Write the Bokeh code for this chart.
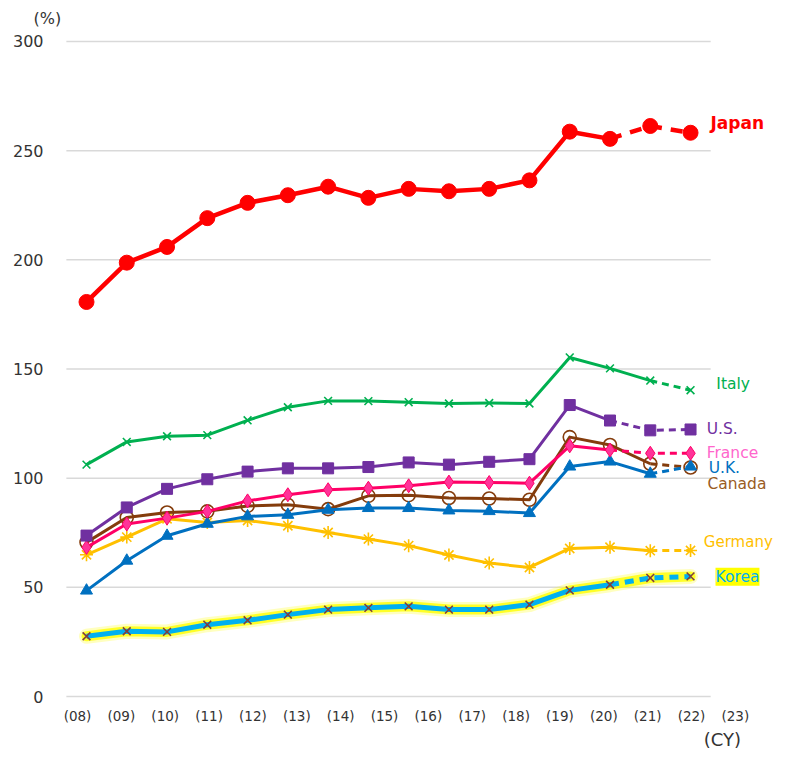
from bokeh.plotting import figure
from bokeh.models import Range1d, LinearAxis, FixedTicker, Label
from bokeh.embed import file_html
from bokeh.resources import INLINE

# ---------------- data ----------------
years = ["08", "09", "10", "11", "12", "13", "14", "15", "16", "17", "18", "19", "20", "21", "22", "23"]
x_labels = ["(" + y + ")" for y in years]
y_ticks = [0, 50, 100, 150, 200, 250, 300]

japan = [180.7, 198.7, 205.9, 219.1, 226.1, 229.6, 233.5, 228.4, 232.5, 231.4, 232.5, 236.4, 258.7, 255.4, 261.3, 258.2]
italy = [106.2, 116.6, 119.2, 119.7, 126.5, 132.5, 135.4, 135.3, 134.8, 134.2, 134.4, 134.2, 155.3, 150.3, 144.7, 140.3]
us = [73.7, 86.6, 95.1, 99.5, 103.0, 104.5, 104.5, 105.1, 107.2, 106.2, 107.5, 108.7, 133.5, 126.4, 121.9, 122.3]
france = [68.3, 79.0, 81.7, 84.8, 89.6, 92.4, 94.7, 95.4, 96.5, 98.2, 98.0, 97.7, 114.8, 112.9, 111.4, 111.4]
uk = [48.5, 62.2, 73.6, 79.1, 82.5, 83.2, 85.5, 86.3, 86.3, 85.2, 84.9, 84.0, 105.3, 107.6, 102.0, 105.3]
canada = [70.6, 82.0, 84.3, 84.8, 87.3, 87.8, 85.8, 91.9, 92.2, 90.9, 90.7, 90.1, 118.8, 115.2, 106.6, 104.9]
germany = [64.9, 73.0, 81.4, 79.7, 80.6, 78.2, 75.1, 72.1, 69.1, 64.8, 61.1, 59.1, 67.8, 68.4, 66.8, 66.9]
korea = [27.6, 29.9, 29.6, 32.9, 34.9, 37.5, 39.8, 40.6, 41.3, 39.8, 39.8, 42.1, 48.6, 51.2, 54.3, 55.0]

# index from which each series is drawn dashed (estimates)
dash_from = {"Japan": 13, "Italy": 14, "U.S.": 13, "France": 13, "U.K.": 14,
             "Canada": 14, "Germany": 14, "Korea": 13}

xs = list(range(len(years)))
n = len(years)

# ---------------- figure ----------------
p = figure(width=773, height=752, output_backend="svg", toolbar_location=None,
           x_range=Range1d(-0.5215, 17.06), y_range=Range1d(-1.372, 304.12),
           x_axis_type=None, y_axis_type=None,
           min_border_left=65, min_border_right=0, min_border_top=32, min_border_bottom=52,
           title="(%)")
p.outline_line_color = None
p.background_fill_color = "white"
p.border_fill_color = "white"
p.title.align = "left"
p.title.offset = -32
p.title.standoff = 10
p.title.text_font = "DejaVu Sans"
p.title.text_font_size = "16px"
p.title.text_font_style = "normal"
p.title.text_color = "#333333"

# gridlines across the category area (-0.5 .. n-0.5)
p.segment(x0=[-0.5] * len(y_ticks), y0=y_ticks, x1=[n - 0.5] * len(y_ticks), y1=y_ticks,
          line_color="#d9d9d9", line_width=1.5)

yaxis = LinearAxis(ticker=FixedTicker(ticks=y_ticks), axis_line_color=None,
                   major_tick_line_color=None, minor_tick_line_color=None,
                   major_tick_in=0, major_tick_out=0, major_label_standoff=22,
                   major_label_text_font="DejaVu Sans", major_label_text_font_size="16px",
                   major_label_text_color="#333333")
p.add_layout(yaxis, "left")

p.extra_x_ranges = {"lab": Range1d(-0.2736, 15.869), "cy": Range1d(-14.979, 1.1628)}
xaxis = LinearAxis(x_range_name="lab", ticker=FixedTicker(ticks=xs),
                   major_label_overrides={i: lab for i, lab in zip(xs, x_labels)},
                   axis_line_color=None, major_tick_line_color=None, minor_tick_line_color=None,
                   major_tick_in=0, major_tick_out=0, major_label_standoff=8,
                   major_label_text_font="DejaVu Sans", major_label_text_font_size="13.5px",
                   major_label_text_color="#333333")
p.add_layout(xaxis, "below")
cyaxis = LinearAxis(x_range_name="cy", ticker=FixedTicker(ticks=[0]),
                    major_label_overrides={0: "(CY)"},
                    axis_line_color=None, major_tick_line_color=None, minor_tick_line_color=None,
                    major_tick_in=0, major_tick_out=0, major_label_standoff=2,
                    major_label_text_font="DejaVu Sans", major_label_text_font_size="18px",
                    major_label_text_color="#333333")
p.add_layout(cyaxis, "below")


def series(vals, name, color, lw, dash, marker, msize, mfill, mline, mlw, glow=False):
    k = dash_from[name]
    if glow:
        p.line(xs, vals, line_color="#ffff00", line_width=15, line_alpha=0.25, line_join="round", line_cap="round")
        p.line(xs, vals, line_color="#ffff00", line_width=10, line_alpha=0.8, line_join="round", line_cap="round")
    p.line(xs[:k + 1], vals[:k + 1], line_color=color, line_width=lw, line_join="round")
    p.line(xs[k:], vals[k:], line_color=color, line_width=lw, line_dash=dash)
    p.scatter(xs, vals, marker=marker, size=msize, fill_color=mfill, line_color=mline, line_width=mlw)


series(korea, "Korea", "#00b0f0", 5, "9 6", "x", 11, None, "#7f3f3f", 1.6, glow=True)
series(germany, "Germany", "#ffc000", 3, "7 5", "asterisk", 13, None, "#ffc000", 1.6)
series(canada, "Canada", "#843c0c", 3, "7 5", "circle", 13, None, "#843c0c", 1.6)
series(uk, "U.K.", "#0070c0", 3, "7 5", "triangle", 12, "#0070c0", "#0070c0", 1)
series(france, "France", "#ff0066", 3, "7 5", "diamond", 14, "#ff3399", "#ff0066", 1)
series(us, "U.S.", "#7030a0", 3, "7 5", "square", 11, "#7030a0", "#7030a0", 1)
series(italy, "Italy", "#00b050", 3, "7 5", "x", 11, None, "#00b050", 1.6)
series(japan, "Japan", "#ff0000", 4.5, "12 9", "circle", 15, "#ff0000", "#ff0000", 1)

# series names (placed just right of the last point)
names = [
    ("Japan", 15.495, 262.5, "#ff0000", "bold", "17px", None),
    ("Italy", 15.64, 143.1, "#00b050", "normal", "15.5px", None),
    ("U.S.", 15.40, 122.6, "#7030a0", "normal", "15.5px", None),
    ("France", 15.40, 111.6, "#ff66cc", "normal", "15.5px", None),
    ("U.K.", 15.45, 104.7, "#0070c0", "normal", "15.5px", None),
    ("Canada", 15.42, 97.4, "#9a5c1f", "normal", "15.5px", None),
    ("Germany", 15.33, 70.9, "#ffc000", "normal", "15px", None),
    ("Korea", 15.62, 54.9, "#00b0f0", "normal", "15.5px", "#ffff00"),
]
for t, x, y, c, st, fs, bg in names:
    lab = Label(x=x, y=y, text=t, text_color=c, text_font="DejaVu Sans", text_font_size=fs,
                text_font_style=st, text_baseline="middle", text_align="left")
    if bg:
        lab.background_fill_color = bg
    p.add_layout(lab)

open("out.html", "w").write(file_html(p, INLINE))
